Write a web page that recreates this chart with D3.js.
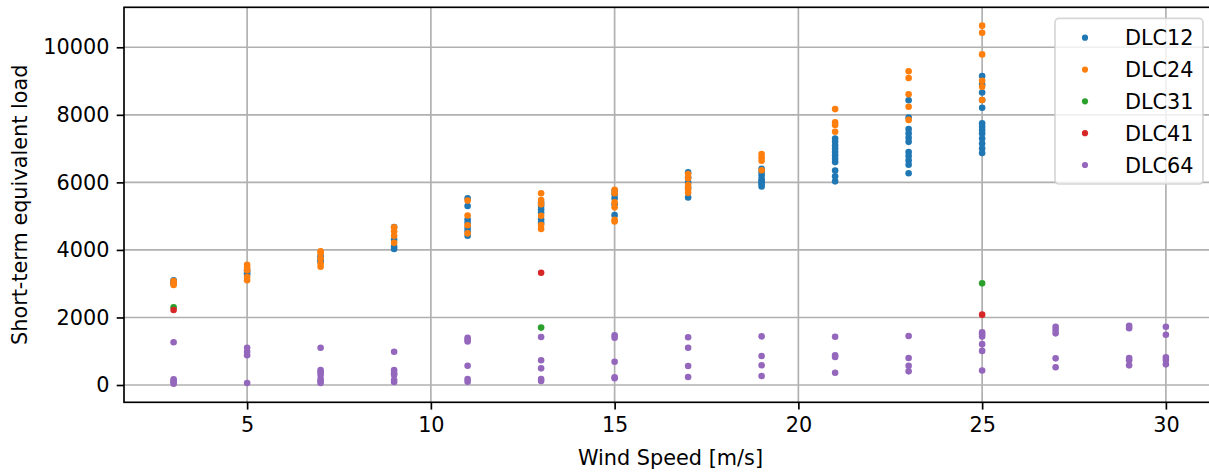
<!DOCTYPE html>
<html>
<head>
<meta charset="utf-8">
<script src="https://cdn.jsdelivr.net/npm/d3@7"></script>
<style>
  html, body { margin: 0; padding: 0; background: #fff; }
  svg { display: block; font-family: "DejaVu Sans", sans-serif; }
</style>
</head>
<body>
<svg id="chart" width="1209" height="472"></svg>
<script>
// ---- data (wind speed [m/s], short-term equivalent load) ----
const seriesNames = ["DLC12", "DLC24", "DLC31", "DLC41", "DLC64"];
const seriesColors = ["#1f77b4", "#ff7f0e", "#2ca02c", "#d62728", "#9467bd"];

const dlc12 = [
  [3,3100],[3,3050],[3,3000],
  [5,3400],[5,3330],[5,3280],
  [7,3820],[7,3770],[7,3700],[7,3650],
  [9,4680],[9,4300],[9,4100],[9,4030],
  [11,5530],[11,5300],[11,4900],[11,4800],[11,4650],[11,4550],[11,4420],
  [13,5400],[13,5300],[13,5200],[13,5100],[13,4900],[13,4800],
  [15,5750],[15,5650],[15,5530],[15,5350],[15,5030],
  [17,6300],[17,6150],[17,6000],[17,5850],[17,5550],
  [19,6400],[19,6300],[19,6200],[19,6100],[19,6050],[19,6000],[19,5950],[19,5880],
  [21,7300],[21,7200],[21,7100],[21,7000],[21,6900],[21,6800],[21,6700],[21,6600],[21,6350],[21,6180],[21,6030],
  [23,8430],[23,7920],[23,7580],[23,7450],[23,7320],[23,7200],[23,6900],[23,6780],[23,6650],[23,6520],[23,6270],
  [25,9150],[25,8900],[25,8660],[25,8440],[25,8210],[25,7750],[25,7650],[25,7550],[25,7450],[25,7300],[25,7150],[25,7000],[25,6870]
];
const dlc24 = [
  [3,3080],[3,3020],[3,2960],
  [5,3560],[5,3480],[5,3400],[5,3200],[5,3100],
  [7,3960],[7,3900],[7,3750],[7,3600],[7,3500],
  [9,4670],[9,4550],[9,4420],[9,4210],
  [11,5460],[11,5020],[11,4730],[11,4490],
  [13,5680],[13,5480],[13,5350],[13,5010],[13,4740],[13,4620],
  [15,5780],[15,5680],[15,5410],[15,5260],[15,4890],[15,4840],
  [17,6250],[17,6120],[17,5920],[17,5800],[17,5690],
  [19,6840],[19,6740],[19,6640],[19,6360],
  [21,8170],[21,7780],[21,7700],[21,7500],
  [23,9290],[23,9090],[23,8610],[23,8240],[23,7850],
  [25,10640],[25,10430],[25,9790],[25,9010],[25,8830],[25,8440]
];
const dlc31 = [[3,2300],[13,1700],[25,3010]];
const dlc41 = [[3,2220],[13,3325],[25,2083]];
const dlc64 = [
  [3,1264],[3,170],[3,120],[3,80],[3,40],
  [5,1105],[5,986],[5,880],[5,59],
  [7,1105],[7,440],[7,380],[7,300],[7,180],[7,110],[7,60],
  [9,986],[9,440],[9,350],[9,300],[9,150],[9,90],
  [11,1400],[11,1340],[11,1290],[11,571],[11,180],[11,100],
  [13,1420],[13,731],[13,494],[13,180],[13,120],
  [15,1470],[15,1400],[15,690],[15,230],[15,200],
  [17,1412],[17,1105],[17,562],[17,237],
  [19,1441],[19,859],[19,583],[19,266],
  [21,1430],[21,880],[21,830],[21,364],
  [23,1451],[23,800],[23,572],[23,405],
  [25,1560],[25,1500],[25,1440],[25,1210],[25,1010],[25,430],
  [27,1720],[27,1630],[27,1530],[27,790],[27,524],
  [29,1750],[29,1680],[29,800],[29,730],[29,582],
  [30,1727],[30,1490],[30,820],[30,740],[30,612]
];
const allSeries = [dlc12, dlc24, dlc31, dlc41, dlc64];

const xTicks = [5, 10, 15, 20, 25, 30];
const yTicks = [0, 2000, 4000, 6000, 8000, 10000];
const xLabel = "Wind Speed [m/s]";
const yLabel = "Short-term equivalent load";

// ---- layout ----
const svg = d3.select("#chart");
const plot = { left: 124, right: 1215.5, top: 7.3, bottom: 402.3 };
const fontSize = 20.8;

const x = d3.scaleLinear().domain([1.65, 31.35]).range([plot.left, plot.right]);
const y = d3.scaleLinear().domain([-512, 11184]).range([plot.bottom, plot.top]);

// grid
const grid = svg.append("g");
grid.selectAll("line.vx").data(xTicks).join("line")
  .attr("x1", d => x(d)).attr("x2", d => x(d))
  .attr("y1", plot.top).attr("y2", plot.bottom)
  .attr("stroke", "#b0b0b0").attr("stroke-width", 1.67);
grid.selectAll("line.hy").data(yTicks).join("line")
  .attr("x1", plot.left).attr("x2", plot.right)
  .attr("y1", d => y(d)).attr("y2", d => y(d))
  .attr("stroke", "#b0b0b0").attr("stroke-width", 1.67);

// points
allSeries.forEach((data, i) => {
  svg.append("g").selectAll("circle").data(data).join("circle")
    .attr("cx", d => x(d[0]))
    .attr("cy", d => y(d[1]))
    .attr("r", 3.3)
    .attr("fill", seriesColors[i]);
});

// axes
const xAxis = d3.axisBottom(x).tickValues(xTicks).tickSize(7.3).tickPadding(7.3).tickFormat(d3.format("d"));
const yAxis = d3.axisLeft(y).tickValues(yTicks).tickSize(7.3).tickPadding(7.3).tickFormat(d3.format("d"));

const gx = svg.append("g").attr("transform", `translate(0,${plot.bottom})`).call(xAxis);
const gy = svg.append("g").attr("transform", `translate(${plot.left},0)`).call(yAxis);
[gx, gy].forEach(g => {
  g.select(".domain").remove();
  g.selectAll(".tick line").attr("stroke", "#000").attr("stroke-width", 1.67);
  g.selectAll(".tick text").attr("fill", "#000").style("font-size", fontSize + "px")
    .style("font-family", "DejaVu Sans, sans-serif");
});

// spines
svg.append("rect")
  .attr("x", plot.left).attr("y", plot.top)
  .attr("width", plot.right - plot.left).attr("height", plot.bottom - plot.top)
  .attr("fill", "none").attr("stroke", "#000").attr("stroke-width", 1.67);

// axis labels
svg.append("text")
  .attr("x", (plot.left + 1209 + 6) / 2 + 1).attr("y", 465)
  .attr("text-anchor", "middle")
  .style("font-size", fontSize + "px")
  .text(xLabel);
svg.append("text")
  .attr("transform", `translate(27,${(plot.top + plot.bottom) / 2}) rotate(-90)`)
  .attr("text-anchor", "middle")
  .style("font-size", fontSize + "px")
  .text(yLabel);

// legend
const lg = svg.append("g");
lg.append("rect")
  .attr("x", 1055).attr("y", 18.3).attr("width", 148).attr("height", 165.7)
  .attr("rx", 4).attr("ry", 4)
  .attr("fill", "rgba(255,255,255,0.8)")
  .attr("stroke", "rgba(204,204,204,0.8)").attr("stroke-width", 1.67);
const rowY = d3.scaleLinear().domain([0, 4]).range([37.7, 165]);
seriesNames.forEach((name, i) => {
  lg.append("circle").attr("cx", 1085).attr("cy", rowY(i)).attr("r", 3.1).attr("fill", seriesColors[i]);
  lg.append("text").attr("x", 1125).attr("y", rowY(i) + 7.5)
    .style("font-size", fontSize + "px").text(name);
});
</script>
</body>
</html>
